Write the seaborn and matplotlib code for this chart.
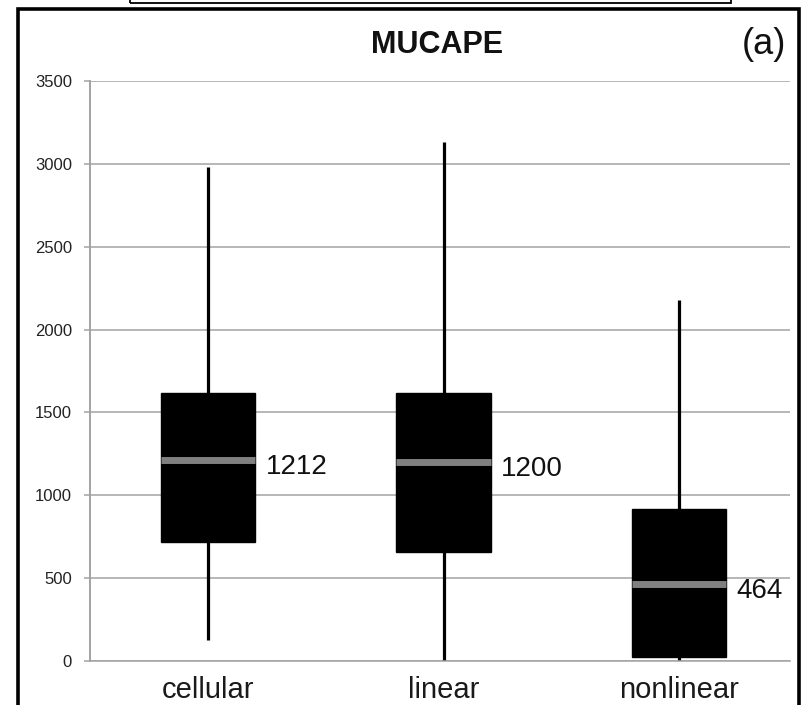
import numpy as np
import pandas as pd
import matplotlib
matplotlib.use("Agg")
import matplotlib.pyplot as plt
from matplotlib.patches import Rectangle
import seaborn as sns

# Five-number summaries of MUCAPE (J/kg) per storm mode
categories = ["cellular", "linear", "nonlinear"]
whisker_low = [125, 0, 0]
quartile_1 = [718, 655, 24]
medians = [1212, 1200, 464]
quartile_3 = [1617, 1620, 917]
whisker_high = [2980, 3130, 2180]
y_ticks = [0, 500, 1000, 1500, 2000, 2500, 3000, 3500]

# Long-form table: the five summary values per category reproduce the
# box statistics exactly (linear percentiles, whiskers to min/max).
rows = []
for i, cat in enumerate(categories):
    for v in (whisker_low[i], quartile_1[i], medians[i], quartile_3[i], whisker_high[i]):
        rows.append({"mode": cat, "mucape": v})
df = pd.DataFrame(rows)

sns.set_style("white")
plt.rcParams["font.family"] = ["Liberation Sans", "DejaVu Sans"]

fig = plt.figure(figsize=(8.02, 7.05), dpi=100)
ax = fig.add_axes([90 / 802, 1 - 661 / 705, 700 / 802, 580 / 705])

grid_grey = "#a3a3a3"
ax.set_axisbelow(True)
ax.yaxis.grid(True, color=grid_grey, linewidth=1.1)
ax.xaxis.grid(False)

sns.boxplot(
    data=df, x="mode", y="mucape", order=categories, ax=ax,
    color="black", linecolor="black", saturation=1, width=0.4,
    whis=np.inf, showcaps=False, showfliers=False,
    boxprops=dict(linewidth=1.0),
    whiskerprops=dict(linewidth=2.3, color="black"),
    medianprops=dict(color="#808080", linewidth=5.0),
)

# Median value labels to the right of each box
for i, m in enumerate(medians):
    ax.annotate(f"{m}", xy=(i + 0.245, m), xytext=(0, -5),
                textcoords="offset points", ha="left", va="center",
                fontsize=20, color="#111111")

ax.set_ylim(0, 3500)
ax.set_xlim(-0.501, 2.471)
ax.set_yticks(y_ticks)
ax.set_yticklabels([str(t) for t in y_ticks], fontsize=12, color="#222222")
ax.set_xlabel("")
ax.set_ylabel("")
ax.tick_params(axis="y", which="both", left=True, length=4, width=1.1,
               color=grid_grey, pad=9)
ax.tick_params(axis="x", length=0, pad=11, labelsize=21, labelcolor="#1a1a1a")

for side in ("top", "right"):
    ax.spines[side].set_visible(False)
ax.spines["left"].set_color(grid_grey)
ax.spines["left"].set_linewidth(1.4)
ax.spines["bottom"].set_color(grid_grey)
ax.spines["bottom"].set_linewidth(1.1)

# Title and panel letter
fig.text(437 / 802, 1 - 45 / 705, "MUCAPE", ha="center", va="center",
         fontsize=22, fontweight="bold", color="#111111")
fig.text(786 / 802, 1 - 45 / 705, "(a)", ha="right", va="center",
         fontsize=26, color="#111111")

# Panel frame and the edge of the box above it
W, H = 802, 705
fig.patches.append(Rectangle((18 / W, -0.05), (799 - 18) / W, 1 - 9 / H + 0.05,
                             transform=fig.transFigure, fill=False,
                             edgecolor="black", linewidth=2.6, zorder=10))
fig.patches.append(Rectangle((130 / W, 1 - 3 / H), (731 - 130) / W, 0.05,
                             transform=fig.transFigure, fill=False,
                             edgecolor="black", linewidth=1.3, zorder=10))

fig.savefig("out.png", dpi=100, facecolor="white")
